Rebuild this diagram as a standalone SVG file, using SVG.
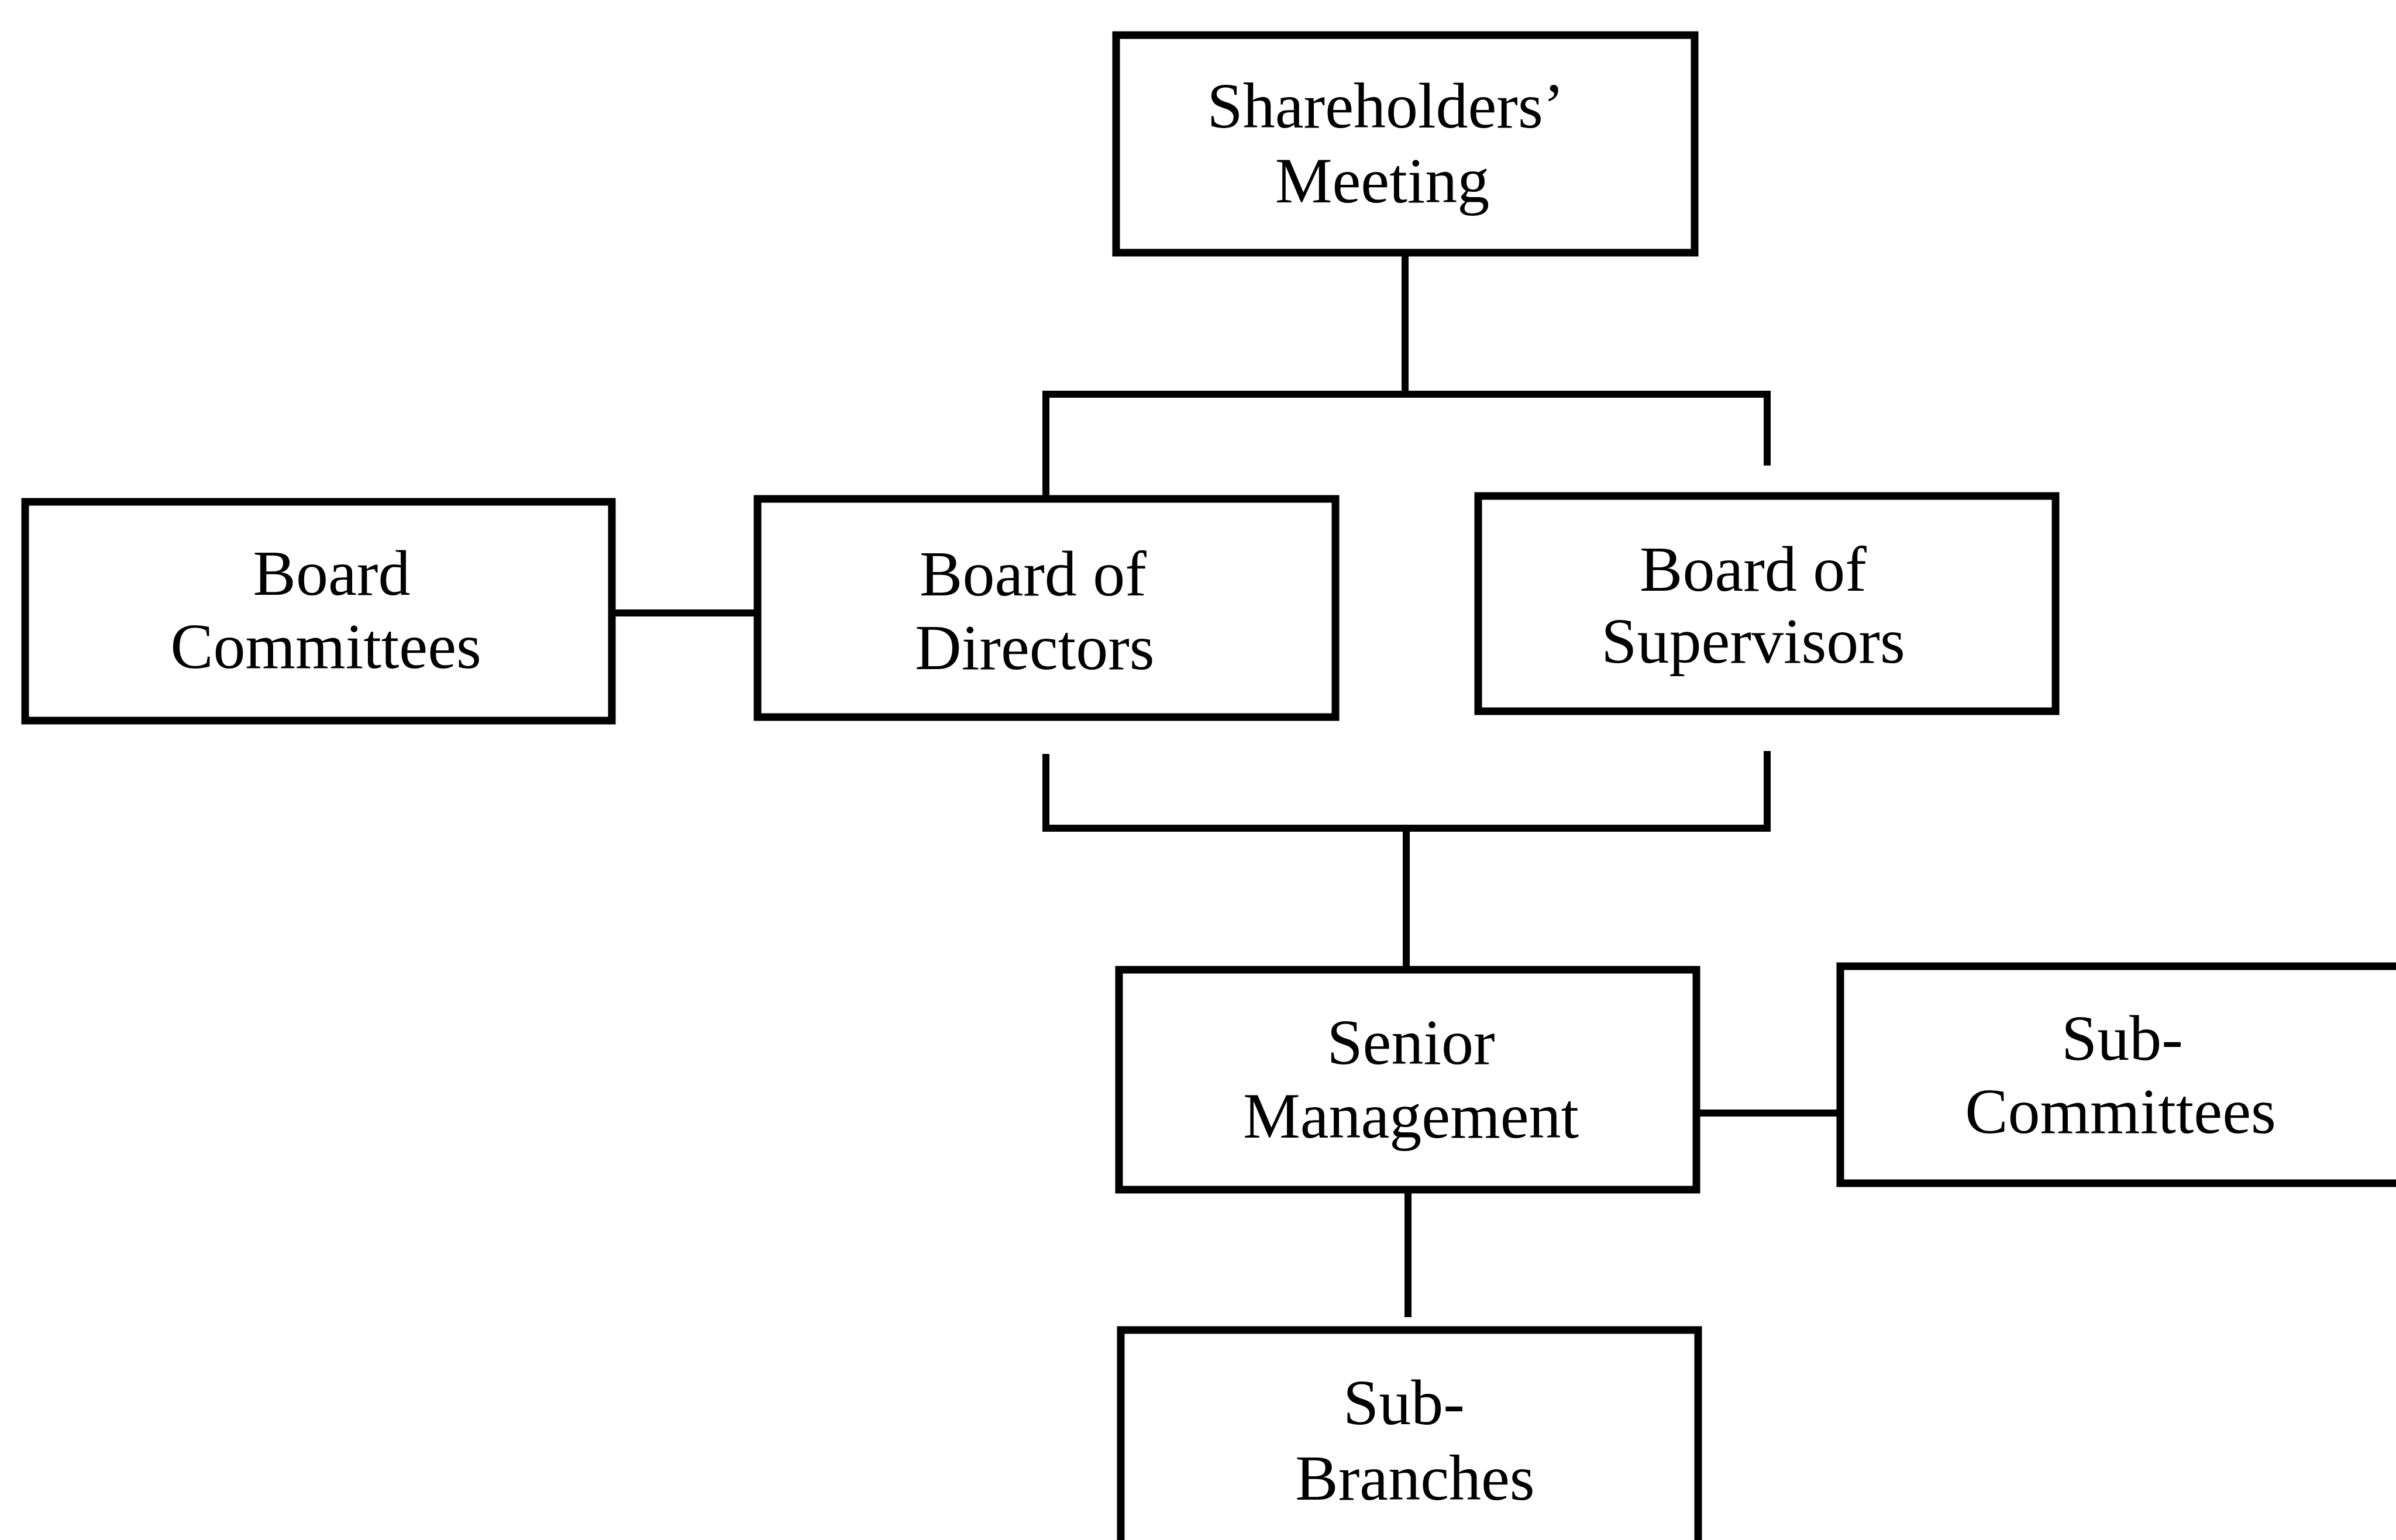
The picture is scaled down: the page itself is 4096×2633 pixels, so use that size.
<svg xmlns="http://www.w3.org/2000/svg" width="4096" height="2633" viewBox="0 0 4096 2633">
<style>
.box{fill:#fff;stroke:#000;stroke-width:13}
.lbl{font-family:"Liberation Serif","Times New Roman",serif;font-size:110px;fill:#000;text-anchor:middle}
.con{stroke:#000;stroke-width:12;fill:none;stroke-linecap:butt}
</style>
<rect width="4096" height="2633" fill="#fff"/>
<g id="connectors">
<line class="con" x1="2402" y1="432" x2="2402" y2="674"/>
<line class="con" x1="1782" y1="674" x2="3027" y2="674"/>
<line class="con" x1="1788" y1="674" x2="1788" y2="853"/>
<line class="con" x1="3021" y1="674" x2="3021" y2="796"/>
<line class="con" x1="1046" y1="1048" x2="1295" y2="1048"/>
<path class="con" d="M1788,1289 V1416 H3021 V1284"/>
<line class="con" x1="2404" y1="1416" x2="2404" y2="1658"/>
<line class="con" x1="2900" y1="1903" x2="3146" y2="1903"/>
<line class="con" x1="2407" y1="2034" x2="2407" y2="2252"/>
</g>
<g id="shareholders">
<rect class="box" x="1908" y="60" width="989" height="372"/>
<text class="lbl" x="2369" y="218">Shareholders’</text>
<text class="lbl" x="2363" y="346">Meeting</text>
</g>
<g id="board-committees">
<rect class="box" x="43" y="858" width="1003" height="374"/>
<text class="lbl" x="567" y="1017">Board</text>
<text class="lbl" x="557" y="1142">Committees</text>
</g>
<g id="board-directors">
<rect class="box" x="1295" y="853" width="988" height="373"/>
<text class="lbl" x="1766" y="1018">Board of</text>
<text class="lbl" x="1769" y="1144">Directors</text>
</g>
<g id="board-supervisors">
<rect class="box" x="2527" y="848" width="987" height="368"/>
<text class="lbl" x="2997" y="1010">Board of</text>
<text class="lbl" x="2997" y="1133">Supervisors</text>
</g>
<g id="senior-management">
<rect class="box" x="1913" y="1658" width="987" height="376"/>
<text class="lbl" x="2412" y="1819">Senior</text>
<text class="lbl" x="2412" y="1945">Management</text>
</g>
<g id="sub-committees">
<rect class="box" x="3146" y="1652" width="990" height="371"/>
<text class="lbl" x="3628" y="1812">Sub-</text>
<text class="lbl" x="3625" y="1937">Committees</text>
</g>
<g id="sub-branches">
<rect class="box" x="1916" y="2274" width="987" height="420"/>
<text class="lbl" x="2400" y="2435">Sub-</text>
<text class="lbl" x="2419" y="2564">Branches</text>
</g>
</svg>
